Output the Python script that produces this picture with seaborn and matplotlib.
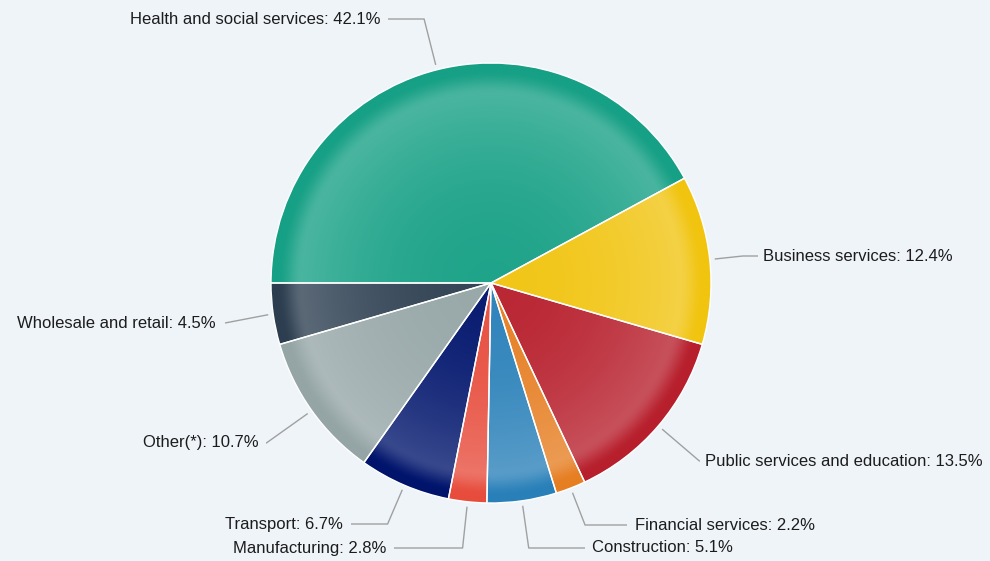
import numpy as np
import matplotlib
matplotlib.use("Agg")
import matplotlib.pyplot as plt
import seaborn as sns

# Employment share by sector (%), clockwise from 9 o'clock
sectors = [
    "Health and social services",
    "Business services",
    "Public services and education",
    "Financial services",
    "Construction",
    "Manufacturing",
    "Transport",
    "Other(*)",
    "Wholesale and retail",
]
shares = [42.1, 12.4, 13.5, 2.2, 5.1, 2.8, 6.7, 10.7, 4.5]
sector_colors = ["#16a085", "#f1c40f", "#b71f2c", "#e67e22", "#2980b9",
                 "#e74c3c", "#00146c", "#95a5a6", "#2c3e50"]

BG = "#eff4f9"
sns.set_theme(style="white", rc={"figure.facecolor": BG, "axes.facecolor": BG})
plt.rcParams["font.family"] = ["Liberation Sans", "DejaVu Sans"]

W, H = 990, 561
fig = plt.figure(figsize=(W / 100, H / 100), dpi=100)
ax = fig.add_axes([0, 0, 1, 1])

def sy(y):
    """Convert a top-down pixel row into the upward data axis."""
    return H - y

cx, cy, R = 491, sy(283), 220
palette = sns.color_palette(sector_colors)

wedges, _ = ax.pie(shares, colors=palette, startangle=180, counterclock=False,
                   center=(cx, cy), radius=R,
                   wedgeprops=dict(edgecolor="white", linewidth=1.0))
ax.set_xlim(0, W)
ax.set_ylim(0, H)
ax.set_aspect("auto")
ax.axis("off")

# radial shading: soft highlight ring near the rim, base colour at the edge
n = 600
g = np.linspace(-1, 1, n)
gx, gy = np.meshgrid(g, g)
t = np.sqrt(gx ** 2 + gy ** 2)
peak = 0.86
rise = 0.04 + 0.18 * np.clip(t / peak, 0, 1) ** 2
s = np.clip((t - peak) / 0.11, 0, 1)
amount = np.where(t <= peak, rise, 0.22 * (1 - s * s * (3 - 2 * s)))

for w, col in zip(wedges, palette):
    base = np.array(col[:3])
    img = base[None, None, :] + (1 - base[None, None, :]) * amount[:, :, None]
    im = ax.imshow(np.clip(img, 0, 1), extent=(cx - R, cx + R, cy - R, cy + R),
                   origin="lower", interpolation="bilinear", zorder=1)
    im.set_clip_path(w)
    w.set_facecolor("none")
    w.set_zorder(2)

# label layout: (end of connector x, label row y, side, text gap)
label_layout = [
    (388, 19, -1, 7),
    (758, 256, 1, 5),
    (700, 461, 1, 5),
    (627, 525, 1, 8),
    (585, 548, 1, 7),
    (394, 548, -1, 8),
    (351, 524, -1, 8),
    (266, 443, -1, 7),
    (225, 323, -1, 9),
]

total = sum(shares)
cum = 0.0
for name, val, (lx, ly, side, gap) in zip(sectors, shares, label_layout):
    mid = np.deg2rad(180 - 360 * (cum + val / 2) / total)
    cum += val
    ux, uy = np.cos(mid), np.sin(mid)
    touch = (cx + (R + 5) * ux, cy + (R + 5) * uy)
    yrow = sy(ly)
    xs, ys = [touch[0]], [touch[1]]
    if abs(uy) > 1e-6:
        rb = (yrow - cy) / uy
        if 250 <= rb <= 280:
            xs.append(cx + rb * ux)
            ys.append(yrow)
    xs.append(lx)
    ys.append(yrow)
    ax.plot(xs, ys, color="#a0a0a0", lw=1.0, zorder=3, solid_capstyle="butt")
    ax.text(lx + side * gap, yrow, f"{name}: {val}%", ha="left" if side > 0 else "right",
            va="center", fontsize=12, color="#1c1c1c", zorder=4)

fig.savefig("out.png", dpi=100, facecolor=BG)
